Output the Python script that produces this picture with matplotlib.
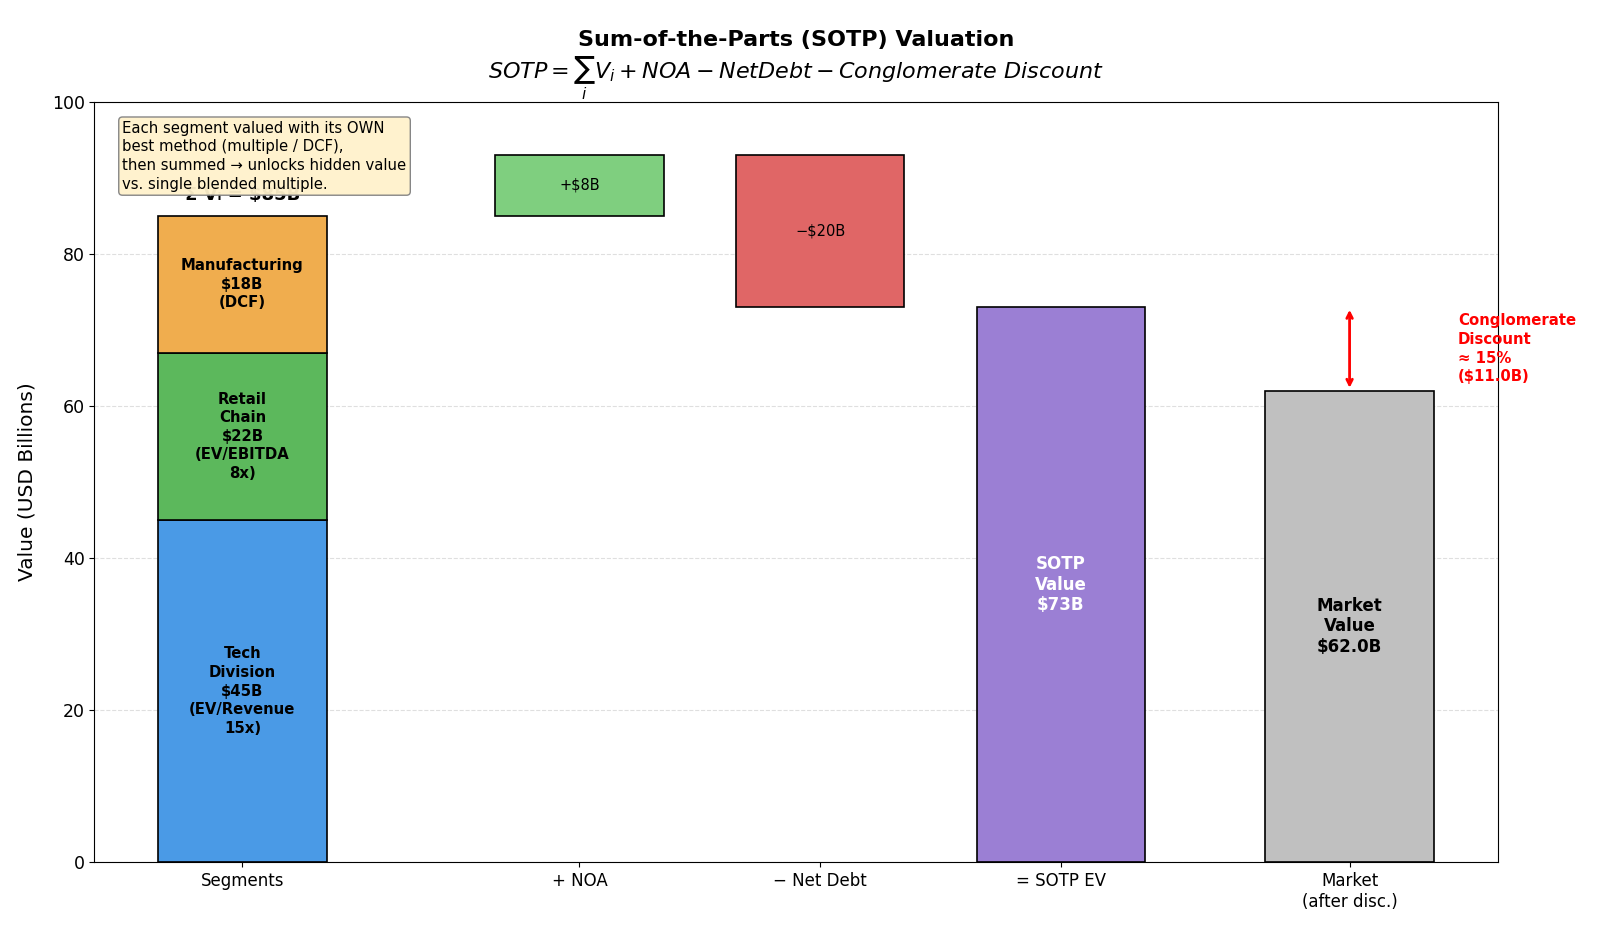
import matplotlib
matplotlib.use("Agg")
import matplotlib.pyplot as plt

# segment values (USD billions)
segment_names = ["Tech\nDivision", "Retail\nChain", "Manufacturing"]
segment_values = [45, 22, 18]
segment_methods = ["(EV/Revenue\n15x)", "(EV/EBITDA\n8x)", "(DCF)"]
segment_colors = ["#4a9ae6", "#5cb85c", "#f0ad4e"]

noa = 8
net_debt = 20
market_value = 62.0

x_pos = [0, 1.4, 2.4, 3.4, 4.6]
x_labels = ["Segments", "+ NOA", "\u2212 Net Debt", "= SOTP EV", "Market\n(after disc.)"]
bar_w = 0.7


def main() -> None:
    fig, ax = plt.subplots(figsize=(16, 9.33), dpi=100)
    fig.subplots_adjust(left=0.059, right=0.936, top=0.891, bottom=0.076)

    # stacked segments
    bottom = 0
    for name, val, meth, col in zip(segment_names, segment_values, segment_methods, segment_colors):
        ax.bar(x_pos[0], val, bar_w, bottom=bottom, color=col, edgecolor="black", linewidth=1.2)
        label = name + "\n$" + f"{val}B\n" + meth
        ax.text(x_pos[0], bottom + val / 2, label, ha="center", va="center",
                fontsize=10.7, fontweight="bold", linespacing=1.3)
        bottom += val
    seg_total = bottom
    ax.text(x_pos[0], seg_total + 1.5, "Σ Vᵢ = $" + f"{seg_total}B", ha="center", va="bottom",
            fontsize=13, fontweight="bold")

    # NOA
    ax.bar(x_pos[1], noa, bar_w, bottom=seg_total, color="#7fcf7f", edgecolor="black", linewidth=1.2)
    ax.text(x_pos[1], seg_total + noa / 2, "+$" + f"{noa}B", ha="center", va="center", fontsize=10.5)

    # net debt
    top = seg_total + noa
    sotp = top - net_debt
    ax.bar(x_pos[2], net_debt, bar_w, bottom=sotp, color="#e06666", edgecolor="black", linewidth=1.2)
    ax.text(x_pos[2], sotp + net_debt / 2, "\u2212$" + f"{net_debt}B", ha="center", va="center",
            fontsize=10.5)

    # SOTP EV
    ax.bar(x_pos[3], sotp, bar_w, color="#9b7fd4", edgecolor="black", linewidth=1.2)
    ax.text(x_pos[3], sotp / 2, "SOTP\nValue\n$" + f"{sotp}B", ha="center", va="center",
            fontsize=12, fontweight="bold", color="white")

    # market
    ax.bar(x_pos[4], market_value, bar_w, color="#c0c0c0", edgecolor="black", linewidth=1.2)
    ax.text(x_pos[4], market_value / 2, "Market\nValue\n$" + f"{market_value:.1f}B", ha="center",
            va="center", fontsize=12, fontweight="bold")

    disc = sotp - market_value
    ax.annotate("", xy=(x_pos[4], market_value), xytext=(x_pos[4], sotp),
                arrowprops=dict(arrowstyle="<->", color="red", lw=2))
    ax.text(x_pos[4] + 0.45, (sotp + market_value) / 2,
            "Conglomerate\nDiscount\n≈ " + f"{disc / sotp * 100:.0f}%\n(${disc:.1f}B)",
            ha="left", va="center", fontsize=10.7, fontweight="bold", color="red", linespacing=1.3)

    ax.text(0.02, 0.975,
            "Each segment valued with its OWN\nbest method (multiple / DCF),\n"
            "then summed → unlocks hidden value\nvs. single blended multiple.",
            transform=ax.transAxes, ha="left", va="top", fontsize=10.7, zorder=10, linespacing=1.3,
            bbox=dict(boxstyle="round,pad=0.25", facecolor="#fff2cc", edgecolor="gray", alpha=0.95))

    ax.set_xticks(x_pos)
    ax.set_xticklabels(x_labels, fontsize=12)
    ax.tick_params(axis="y", labelsize=12.5)
    ax.set_ylim(0, 100)
    ax.set_ylabel("Value (USD Billions)", fontsize=14.5, labelpad=11)
    ax.set_title("Sum-of-the-Parts (SOTP) Valuation\n"
                 r"$SOTP = \sum_i V_i + NOA - NetDebt - Conglomerate\ Discount$",
                 fontsize=16, fontweight="bold")
    ax.grid(True, axis="y", linestyle="--", alpha=0.4)
    ax.set_axisbelow(True)

    fig.savefig("out.png", dpi=100)


if __name__ == "__main__":
    main()
